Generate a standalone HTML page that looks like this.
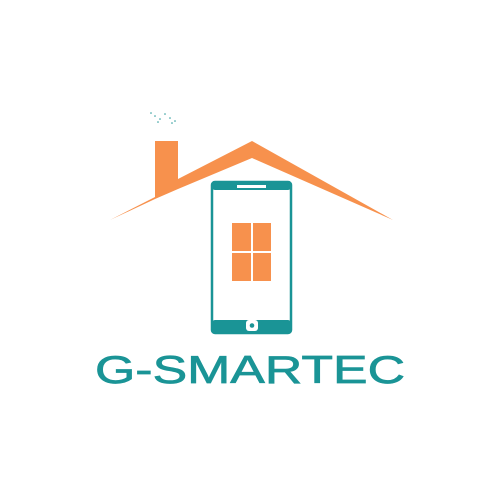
<!DOCTYPE html>
<html><head><style>html,body{margin:0;padding:0;background:#fff;width:500px;height:500px;overflow:hidden}</style></head>
<body>
<svg width="500" height="500" viewBox="0 0 500 500">
<g fill="#2a9a9a">
<circle cx="151" cy="113" r="0.8"/><circle cx="155" cy="116" r="0.8"/><circle cx="160" cy="119" r="0.8"/><circle cx="165" cy="114" r="0.8"/><circle cx="170" cy="118" r="0.8"/><circle cx="172" cy="123" r="0.8"/><circle cx="175" cy="121" r="0.8"/><circle cx="158" cy="122" r="0.8"/>
</g>
<polygon fill="#f7914d" points="110,220 155,197 155,141 178,141 178,179 252,141 393,220 252,158 178,189 155,199"/>
<g>
<rect x="212" y="182" width="79" height="151" rx="3" fill="#fff" stroke="#1a9496" stroke-width="2.5"/>
<rect x="212" y="182" width="79" height="8" rx="3" fill="#1a9496"/>
<rect x="237" y="185" width="29" height="3" fill="#fff"/>
<rect x="212" y="320" width="79" height="13" rx="3" fill="#1a9496"/>
<rect x="246" y="320" width="12" height="11" rx="3" fill="#fff"/>
<circle cx="252" cy="325.5" r="2.3" fill="#1a9496"/>
</g>
<g fill="#f7914d">
<rect x="232" y="223" width="19" height="28"/><rect x="253" y="223" width="18" height="28"/>
<rect x="232" y="253" width="19" height="28"/><rect x="253" y="253" width="18" height="28"/>
</g>
<text x="95" y="383" textLength="310" lengthAdjust="spacingAndGlyphs" font-family="Liberation Sans, sans-serif" font-size="39" fill="#1a9496" stroke="#1a9496" stroke-width="0.7">G-SMARTEC</text>
</svg>
</body></html>
